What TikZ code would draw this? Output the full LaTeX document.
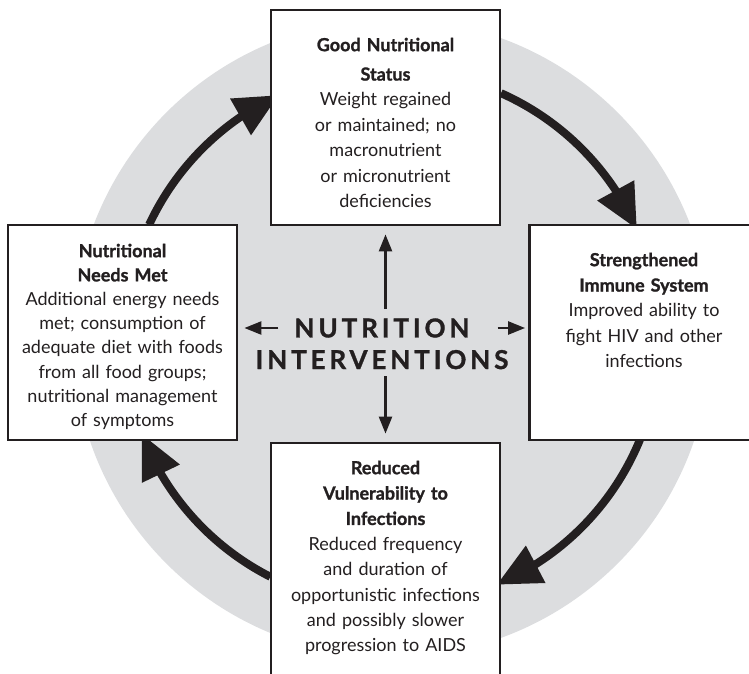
\documentclass[tikz,border=0pt]{standalone}
\usepackage{fontspec}
\setmainfont{Lato}[BoldFeatures={FakeBold=1.2}]
\newfontfamily\hubfont[LetterSpace=15,BoldFeatures={FakeBold=1.2}]{Lato}
\usetikzlibrary{arrows.meta,positioning,bending}

\definecolor{ringgray}{RGB}{220,221,223}
\definecolor{inkblack}{RGB}{35,31,32}

\tikzset{
  box/.style={draw=inkblack, line width=2.8pt, fill=white,
    minimum width=229pt, minimum height=215pt, inner sep=0pt},
  boxtext/.style={text width=226pt, align=center, inner sep=0pt,
    text=inkblack, font=\fontsize{18}{25.4}\selectfont},
  hubword/.style={inner sep=0pt, text=inkblack,
    font=\hubfont\bfseries\fontsize{26}{30}\selectfont},
  cyclearrow/.style={draw=inkblack, line width=8pt,
    -{Triangle[length=44pt,width=40pt]}},
  linkarrow/.style={draw=inkblack, line width=2.4pt,
    -{Triangle[length=17pt,width=13pt]}},
}

\begin{document}
\begin{tikzpicture}[x=1pt,y=-1pt]
\useasboundingbox (0,0) rectangle (749,673);

% grey disc and the cycle
\coordinate (hub) at (392,338);
\fill[ringgray] (hub) circle (319);

\draw[cyclearrow] ([shift={(-155:268)}]hub) arc[start angle=-155, end angle=-115, radius=268];
\draw[cyclearrow] ([shift={(-66:268)}]hub) arc[start angle=-66, end angle=-24, radius=268];
\draw[cyclearrow] ([shift={(22:268)}]hub) arc[start angle=22, end angle=67, radius=268];
\draw[cyclearrow] ([shift={(117:268)}]hub) arc[start angle=117, end angle=159, radius=268];

% the four stages
\node[box] (status) at (385.5,117.5) {};
\node[box] (needs) at (122.5,332.5) {};
\node[box] (immune) at (644,332.5) {};
\node[box, minimum height=240pt] (vulner) at (385.5,563) {};

\node[boxtext, below=29pt of status.north] (statustext)
  {\textbf{Good Nutritional}\\[4pt]\textbf{Status}\\Weight regained\\or maintained; no\\macronutrient\\or micronutrient\\deficiencies};
\node[boxtext, below=20pt of needs.north, font=\fontsize{18}{24.2}\selectfont] (needstext)
  {\textbf{Nutritional}\\\textbf{Needs Met}\\Additional energy needs\\met; consumption of\\adequate diet with foods\\from all food groups;\\nutritional management\\of symptoms};
\node[boxtext, below=29pt of immune.north] (immunetext)
  {\textbf{Strengthened}\\\textbf{Immune System}\\Improved ability to\\fight HIV and other\\infections};
\node[boxtext, below=19pt of vulner.north] (vulnertext)
  {\textbf{Reduced}\\\textbf{Vulnerability to}\\\textbf{Infections}\\Reduced frequency\\and duration of\\opportunistic infections\\and possibly slower\\progression to AIDS};

% centre
\node[hubword] (nutr) at (382,328) {NUTRITION};
\node[hubword, below=12pt of nutr] (interv) {INTERVENTIONS};

\draw[linkarrow, shorten <=9pt, shorten >=8pt] (status.south |- nutr.north) -- (status.south);
\draw[linkarrow, shorten <=7pt, shorten >=8pt] (vulner.north |- interv.south) -- (vulner.north);
\draw[linkarrow, shorten <=16pt, shorten >=6pt] (nutr.west) -- (nutr.west -| needs.east);
\draw[linkarrow, shorten <=28pt, shorten >=3pt] (nutr.east) -- (nutr.east -| immune.west);
\end{tikzpicture}
\end{document}
